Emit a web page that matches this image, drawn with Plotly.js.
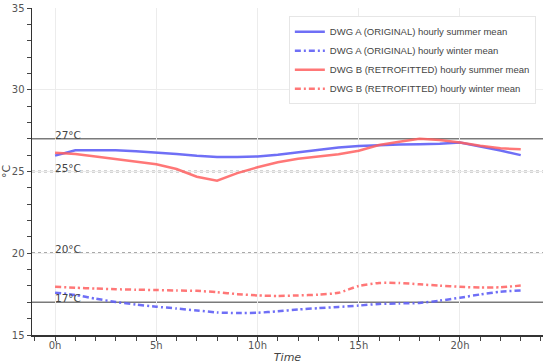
<!DOCTYPE html>
<html>
<head>
<meta charset="utf-8">
<script src="https://cdn.plot.ly/plotly-3.0.1.min.js"></script>
<style>html,body{margin:0;padding:0;background:#fff}#chart{width:550px;height:364px}</style>
</head>
<body>
<div id="chart"></div>
<script>
var hours = [0,1,2,3,4,5,6,7,8,9,10,11,12,13,14,15,16,17,18,19,20,21,22,23];
var tickVals = [0,5,10,15,20];
var tickText = ["0h","5h","10h","15h","20h"];

var aSummer = [25.97,26.30,26.30,26.30,26.24,26.17,26.07,25.96,25.88,25.88,25.92,26.03,26.18,26.33,26.47,26.56,26.62,26.65,26.66,26.69,26.78,26.55,26.28,26.00];
var aWinter = [17.59,17.45,17.22,17.02,16.86,16.73,16.62,16.50,16.38,16.34,16.36,16.45,16.56,16.64,16.72,16.80,16.90,16.93,16.96,17.10,17.28,17.48,17.65,17.72];
var bSummer = [26.15,26.07,25.92,25.76,25.60,25.44,25.15,24.68,24.44,24.90,25.26,25.56,25.78,25.92,26.06,26.27,26.62,26.82,27.00,26.93,26.78,26.58,26.42,26.36];
var bWinter = [17.95,17.89,17.84,17.80,17.77,17.75,17.72,17.70,17.62,17.50,17.42,17.39,17.42,17.47,17.58,18.00,18.18,18.18,18.10,18.02,17.95,17.90,17.92,18.02];

var seriesNames = [
  "DWG A (ORIGINAL) hourly summer mean",
  "DWG A (ORIGINAL) hourly winter mean",
  "DWG B (RETROFITTED) hourly summer mean",
  "DWG B (RETROFITTED) hourly winter mean"
];

var thresholds = [27, 25, 20, 17];
var thresholdLabels = ["27°C", "25°C", "20°C", "17°C"];
var thresholdDash = ["solid", "dot", "dot", "solid"];

var blue = "rgba(95,95,245,0.9)";
var red = "rgba(255,95,95,0.85)";
var dashDot = "6px,3px,2px,3px";

var traces = [
  {x: hours, y: aSummer, name: seriesNames[0], mode: "lines", line: {color: blue, width: 2.5}},
  {x: hours, y: aWinter, name: seriesNames[1], mode: "lines", line: {color: blue, width: 2.5, dash: dashDot, shape: "spline", smoothing: 0.6}},
  {x: hours, y: bSummer, name: seriesNames[2], mode: "lines", line: {color: red, width: 2.5}},
  {x: hours, y: bWinter, name: seriesNames[3], mode: "lines", line: {color: red, width: 2.5, dash: dashDot, shape: "spline", smoothing: 0.6}}
];

var shapes = thresholds.map(function (t, i) {
  return {
    type: "line", xref: "paper", x0: 0, x1: 1, yref: "y", y0: t, y1: t,
    line: {color: thresholdDash[i] === "solid" ? "#7a7a7a" : "#555", width: thresholdDash[i] === "solid" ? 1.6 : 1.4, dash: thresholdDash[i]},
    layer: "below"
  };
});

var annotations = thresholds.map(function (t, i) {
  return {
    x: 0, y: t, xref: "x", yref: "y", text: thresholdLabels[i], showarrow: false,
    xanchor: "left", yanchor: "bottom", yshift: -4, xshift: -2,
    font: {family: "DejaVu Sans, sans-serif", size: 10.5, color: "#444"}
  };
});

var layout = {
  width: 550, height: 364,
  margin: {l: 32, r: 7, t: 8, b: 29, pad: 0},
  paper_bgcolor: "#fff", plot_bgcolor: "#fff",
  font: {family: "DejaVu Sans, sans-serif", size: 10, color: "#555"},
  showlegend: true,
  legend: {
    x: 0.986, xanchor: "right", y: 0.975, yanchor: "top",
    bgcolor: "#fff", bordercolor: "#e6e6e6", borderwidth: 1,
    font: {family: "Liberation Sans, Arial, sans-serif", size: 9.5, color: "#444"},
    tracegroupgap: 0, itemwidth: 30
  },
  xaxis: {
    range: [-1.14, 24.1], tickvals: tickVals, ticktext: tickText,
    ticks: "outside", ticklen: 4, tickcolor: "#444", tickwidth: 1,
    minor: {dtick: 1, tick0: 0, ticks: "outside", ticklen: 4, tickcolor: "#444", showgrid: false},
    showline: true, linecolor: "#333", linewidth: 1.5,
    showgrid: true, gridcolor: "#ececec", gridwidth: 1, zeroline: false,
    tickfont: {size: 10, color: "#555"}, ticklabelposition: "outside", ticklabelstandoff: -4,
    title: {text: "Time", font: {size: 11, color: "#444", style: "italic"}, standoff: 4},
    automargin: false
  },
  yaxis: {
    range: [15, 35], dtick: 5, tick0: 15,
    ticks: "outside", ticklen: 4, tickcolor: "#444", tickwidth: 1,
    minor: {dtick: 1, tick0: 15, ticks: "outside", ticklen: 4, tickcolor: "#444", showgrid: false},
    showline: true, linecolor: "#333", linewidth: 1.5,
    showgrid: true, gridcolor: "#ececec", gridwidth: 1, zeroline: false,
    tickfont: {size: 10, color: "#555"},
    title: {text: "°C", font: {size: 11, color: "#444"}, standoff: 4},
    automargin: false
  },
  shapes: shapes,
  annotations: annotations
};

Plotly.newPlot("chart", traces, layout, {displayModeBar: false, staticPlot: true});
</script>
</body>
</html>
